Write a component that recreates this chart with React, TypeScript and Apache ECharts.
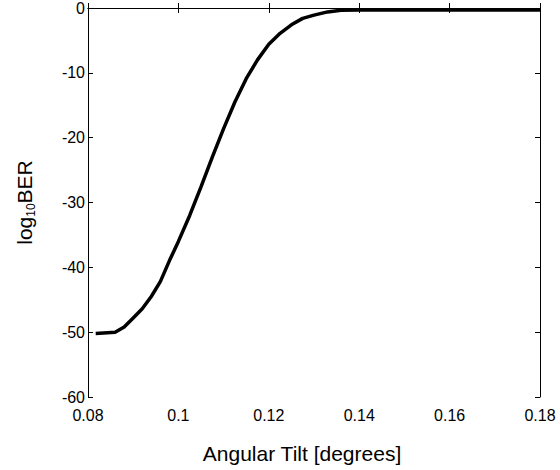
import React, { useEffect, useRef } from "react";
import * as echarts from "echarts";

const tiltDegrees = [
  0.0817, 0.086, 0.088, 0.09, 0.092, 0.094, 0.096, 0.098, 0.1, 0.1025, 0.105,
  0.1075, 0.11, 0.1125, 0.115, 0.1175, 0.12, 0.1225, 0.125, 0.1275, 0.13, 0.133,
  0.136, 0.14, 0.15, 0.16, 0.17, 0.18,
];
const log10BER = [
  -50.2, -50.0, -49.2, -47.8, -46.4, -44.5, -42.2, -39.0, -36.0, -32.0, -27.6,
  -23.0, -18.6, -14.5, -10.9, -8.0, -5.6, -3.9, -2.6, -1.6, -1.1, -0.6,
  -0.35, -0.3, -0.3, -0.3, -0.3, -0.3,
];
const xTicks = { min: 0.08, max: 0.18, interval: 0.02 };
const yTicks = { min: -60, max: 0, interval: 10 };

const FONT = "Liberation Sans, Arial, sans-serif";

export default function App() {
  const ref = useRef<HTMLDivElement>(null);
  useEffect(() => {
    if (!ref.current) return;
    const chart = echarts.init(ref.current, undefined, { renderer: "svg" });
    const axisLine = { show: true, lineStyle: { color: "#000", width: 1 } };
    const tick = { show: true, inside: true, length: 5, lineStyle: { color: "#000" } };
    chart.setOption({
      animation: false,
      backgroundColor: "#fff",
      grid: { left: 88, right: 20, top: 8, bottom: 73, containLabel: false },
      xAxis: [
        {
          type: "value",
          min: xTicks.min,
          max: xTicks.max,
          interval: xTicks.interval,
          axisLine,
          axisTick: tick,
          splitLine: { show: false },
          axisLabel: {
            color: "#000",
            fontFamily: FONT,
            fontSize: 16,
            margin: 10,
            formatter: (v: number) => String(parseFloat(v.toFixed(3))),
          },
          name: "Angular Tilt [degrees]",
          nameLocation: "middle",
          nameGap: 46,
          nameTextStyle: {
            color: "#000",
            fontFamily: FONT,
            fontSize: 21,
            padding: [0, 24, 0, 0],
          },
        },
        {
          type: "value",
          position: "top",
          min: xTicks.min,
          max: xTicks.max,
          interval: xTicks.interval,
          axisLine,
          axisTick: tick,
          axisLabel: { show: false },
          splitLine: { show: false },
        },
      ],
      yAxis: [
        {
          type: "value",
          min: yTicks.min,
          max: yTicks.max,
          interval: yTicks.interval,
          axisLine,
          axisTick: tick,
          splitLine: { show: false },
          axisLabel: {
            color: "#000",
            fontFamily: FONT,
            fontSize: 16,
            margin: 3,
          },
          name: "{a|log}{s|10}{a|BER}",
          nameLocation: "middle",
          nameRotate: 90,
          nameGap: 51,
          nameTextStyle: {
            color: "#000",
            fontFamily: FONT,
            padding: [0, 0, 0, 0],
            rich: {
              a: { fontSize: 21, fontFamily: FONT, color: "#000", lineHeight: 26, verticalAlign: "middle" },
              s: { fontSize: 12, fontFamily: FONT, color: "#000", lineHeight: 13, verticalAlign: "bottom" },
            },
          },
        },
        {
          type: "value",
          position: "right",
          min: yTicks.min,
          max: yTicks.max,
          interval: yTicks.interval,
          axisLine,
          axisTick: tick,
          axisLabel: { show: false },
          splitLine: { show: false },
        },
      ],
      series: [
        {
          type: "line",
          data: tiltDegrees.map((x, i) => [x, log10BER[i]]),
          showSymbol: false,
          symbol: "none",
          smooth: false,
          lineStyle: { color: "#000", width: 3.5 },
          clip: false,
        },
      ],
    });
    return () => chart.dispose();
  }, []);
  return (
    <div
      ref={ref}
      style={{ position: "fixed", left: 0, top: 0, width: 560, height: 470 }}
    />
  );
}
